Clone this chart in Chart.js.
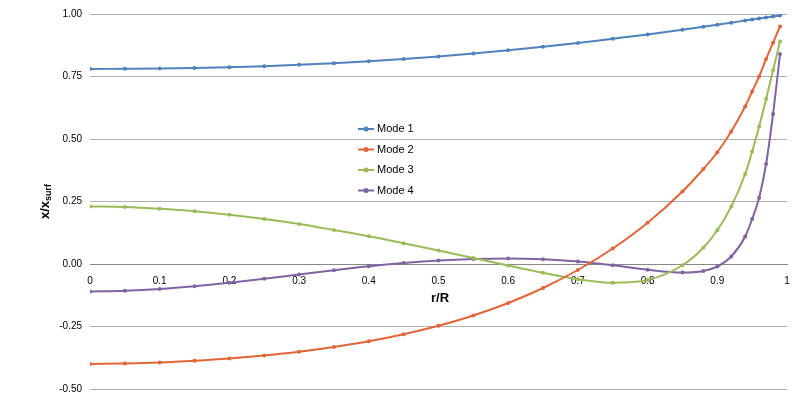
<!DOCTYPE html>
<html><head><meta charset="utf-8">
<script src="https://cdn.jsdelivr.net/npm/chart.js@4"></script>
<style>body{margin:0;background:#fff}#wrap{width:800px;height:407px}</style>
</head><body><div id="wrap"><canvas id="c"></canvas></div>
<script>
const rValues = [0,0.05,0.1,0.15,0.2,0.25,0.3,0.35,0.4,0.45,0.5,0.55,0.6,0.65,0.7,0.75,0.8,0.85,0.88,0.9,0.92,0.94,0.95,0.96,0.97,0.98,0.99];
const mode1 = [0.780,0.781,0.782,0.784,0.787,0.791,0.797,0.803,0.811,0.820,0.830,0.842,0.855,0.869,0.884,0.901,0.918,0.937,0.949,0.957,0.965,0.974,0.978,0.982,0.986,0.990,0.994];
const mode2 = [-0.400,-0.398,-0.394,-0.387,-0.378,-0.366,-0.351,-0.332,-0.309,-0.281,-0.247,-0.206,-0.156,-0.096,-0.024,0.062,0.165,0.290,0.380,0.447,0.530,0.630,0.690,0.750,0.820,0.885,0.950];
const mode3 = [0.230,0.228,0.221,0.211,0.197,0.180,0.160,0.136,0.111,0.083,0.054,0.024,-0.006,-0.035,-0.061,-0.075,-0.064,-0.005,0.065,0.135,0.230,0.360,0.450,0.550,0.660,0.775,0.890];
const mode4 = [-0.110,-0.107,-0.100,-0.089,-0.075,-0.059,-0.042,-0.025,-0.009,0.004,0.014,0.020,0.022,0.019,0.010,-0.005,-0.023,-0.034,-0.028,-0.010,0.030,0.110,0.180,0.265,0.400,0.600,0.840];
const yTicks = [-0.5,-0.25,0,0.25,0.5,0.75,1.0];
const seriesNames = ['Mode 1','Mode 2','Mode 3','Mode 4'];
const seriesColors = ['#4F81BD','#E0663A','#9BBB59','#8064A2'];
const seriesData = [mode1, mode2, mode3, mode4];

const datasets = seriesData.map((vals, i) => ({
  label: seriesNames[i],
  data: vals.map((v, j) => ({x: rValues[j], y: v})),
  borderColor: seriesColors[i],
  backgroundColor: seriesColors[i],
  borderWidth: 2,
  pointRadius: 2,
  pointBorderWidth: 0,
  cubicInterpolationMode: 'monotone'
}));

const extras = {
  id: 'extras',
  afterDraw(chart) {
    const ctx = chart.ctx;
    const a = chart.chartArea;
    ctx.save();
    // legend
    ctx.font = '11px "Liberation Sans", Arial';
    ctx.textBaseline = 'middle';
    seriesNames.forEach((n, i) => {
      const y = 129 + i * 20.5;
      ctx.strokeStyle = seriesColors[i];
      ctx.fillStyle = seriesColors[i];
      ctx.lineWidth = 2;
      ctx.beginPath(); ctx.moveTo(358, y); ctx.lineTo(374, y); ctx.stroke();
      ctx.beginPath(); ctx.arc(366, y, 2.5, 0, Math.PI * 2); ctx.fill();
      ctx.fillStyle = '#000';
      ctx.fillText(n, 377, y);
    });
    // x title
    ctx.font = 'bold 13px "Liberation Sans", Arial';
    ctx.textAlign = 'center';
    ctx.fillText('r/R', 440, 298);
    // y title with subscript
    ctx.translate(45, (a.top + a.bottom) / 2);
    ctx.rotate(-Math.PI / 2);
    ctx.textAlign = 'left';
    ctx.font = 'bold 13px "Liberation Sans", Arial';
    const w1 = ctx.measureText('x/x').width;
    ctx.font = 'bold 9px "Liberation Sans", Arial';
    const w2 = ctx.measureText('surf').width;
    const sx = -(w1 + w2) / 2;
    ctx.font = 'bold 13px "Liberation Sans", Arial';
    ctx.fillText('x/x', sx, 0);
    ctx.font = 'bold 9px "Liberation Sans", Arial';
    ctx.fillText('surf', sx + w1, 4);
    ctx.restore();
  }
};

new Chart(document.getElementById('c'), {
  type: 'line',
  data: { datasets },
  options: {
    responsive: true,
    maintainAspectRatio: false,
    animation: false,
    layout: { padding: { top: 4, right: 13, bottom: 18, left: 0 } },
    plugins: { legend: { display: false }, tooltip: { enabled: false } },
    scales: {
      x: {
        type: 'linear',
        min: 0, max: 1,
        position: { y: 0 },
        grid: { display: false, drawTicks: true },
        border: { color: '#888' },
        ticks: {
          stepSize: 0.1,
          color: '#000',
          font: { size: 10, family: '"Liberation Sans", Arial' },
          callback: v => String(Math.round(v * 10) / 10)
        }
      },
      y: {
        min: -0.5, max: 1.0,
        afterFit(s) { s.width = 90; },
        afterBuildTicks(s) { s.ticks = yTicks.map(v => ({value: v})); },
        grid: { color: '#b0b0b0', drawTicks: false },
        border: { display: false },
        ticks: {
          color: '#000',
          padding: 8,
          font: { size: 10, family: '"Liberation Sans", Arial' },
          callback: v => v.toFixed(2)
        }
      }
    }
  },
  plugins: [extras]
});
</script>
</body></html>
